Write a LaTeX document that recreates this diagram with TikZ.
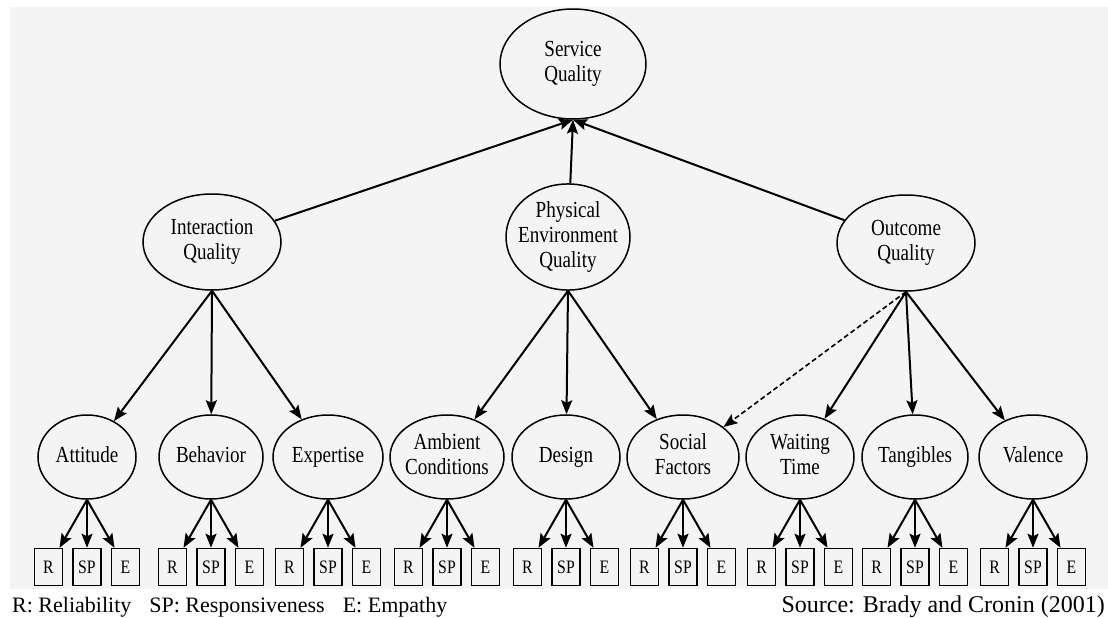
\documentclass[tikz,border=0pt]{standalone}
\usepackage{fontspec}
\setmainfont{Liberation Serif}
\newfontfamily\figfont[FakeStretch=0.83]{Liberation Serif}
\usetikzlibrary{arrows.meta,shapes.geometric}
\tikzset{
	factor/.style={draw, ellipse, line width=1.5pt, inner sep=0,
		font=\figfont\fontsize{23}{25}\selectfont},
	dimen/.style={factor, minimum height=84pt},
	item/.style={draw, rectangle, line width=1.5pt, inner sep=0,
		minimum width=28pt, minimum height=37pt,
		font=\figfont\fontsize{19}{21}\selectfont},
	link/.style={->, line width=2pt},
	weak/.style={link, line width=1.6pt, dash pattern=on 5pt off 3pt}
}
\definecolor{paperColor}{HTML}{F4F4F4}
\newcommand{\fname}[1]{\makebox[0pt]{\begin{tabular}{@{}c@{}}#1\end{tabular}}}

\begin{document}
\begin{tikzpicture}[x=1pt, y=-1pt, >={Stealth[length=14pt,width=11pt,inset=2.5pt]}]
	\useasboundingbox (0,0) rectangle (1108,618);
	\fill[paperColor] (10,7) rectangle (1108,589);
	% top and second level
	\node[factor, minimum width=146pt, minimum height=110pt] (sq) at (573, 64) {\fname{Service\\Quality}};
	\node[factor, minimum width=138pt, minimum height=96pt] (iq) at (212, 242) {\fname{Interaction\\Quality}};
	\node[factor, minimum width=124pt, minimum height=104pt] (peq) at (568, 237) {\fname{Physical\\Environment\\Quality}};
	\node[factor, minimum width=138pt, minimum height=96pt] (oq) at (906, 243) {\fname{Outcome\\Quality}};
	% sub-dimensions
	\node[dimen, minimum width=98pt] (att) at (87, 457) {\fname{Attitude}};
	\node[dimen, minimum width=104pt] (beh) at (211, 457) {\fname{Behavior}};
	\node[dimen, minimum width=110pt] (exp) at (328, 457) {\fname{Expertise}};
	\node[dimen, minimum width=114pt] (amb) at (447, 457) {\fname{Ambient\\Conditions}};
	\node[dimen, minimum width=108pt] (des) at (566, 457) {\fname{Design}};
	\node[dimen, minimum width=112pt] (soc) at (683, 457) {\fname{Social\\Factors}};
	\node[dimen, minimum width=108pt] (wai) at (800, 457) {\fname{Waiting\\Time}};
	\node[dimen, minimum width=106pt] (tan) at (915, 457) {\fname{Tangibles}};
	\node[dimen, minimum width=108pt] (val) at (1033, 457) {\fname{Valence}};
	\path (iq) edge[link] (sq.south);
	\path (peq) edge[link] (sq.south);
	\path (oq) edge[link] (sq.south);
	\path (iq.south) edge[link] (att) (iq.south) edge[link] (beh) (iq.south) edge[link] (exp);
	\path (peq.south) edge[link] (amb) (peq.south) edge[link] (des) (peq.south) edge[link] (soc);
	\path (oq.south) edge[link] (wai) (oq.south) edge[link] (tan) (oq.south) edge[link] (val);
	\path (oq.south) edge[weak] (soc);
	% R, SP, E indicators
	\foreach \n in {att,beh,exp,amb,des,soc,wai,tan,val}{
		\path (\n) ++(-38.5,110) node[item] (\n-r) {R};
		\path (\n) ++(0,110) node[item] (\n-sp) {SP};
		\path (\n) ++(38.5,110) node[item] (\n-e) {E};
		\path (\n.south) edge[link] (\n-r) (\n.south) edge[link] (\n-sp) (\n.south) edge[link] (\n-e);
	}
	\node[anchor=base west, inner sep=0, font=\fontsize{22}{24}\selectfont] (key) at (12, 612)
		{R: Reliability\hspace{18pt}SP: Responsiveness\hspace{18pt}E: Empathy};
	\node[anchor=base east, inner sep=0, font=\fontsize{24}{26}\selectfont] (src) at (1105, 612)
		{Source: Brady and Cronin (2001)};
\end{tikzpicture}
\end{document}
